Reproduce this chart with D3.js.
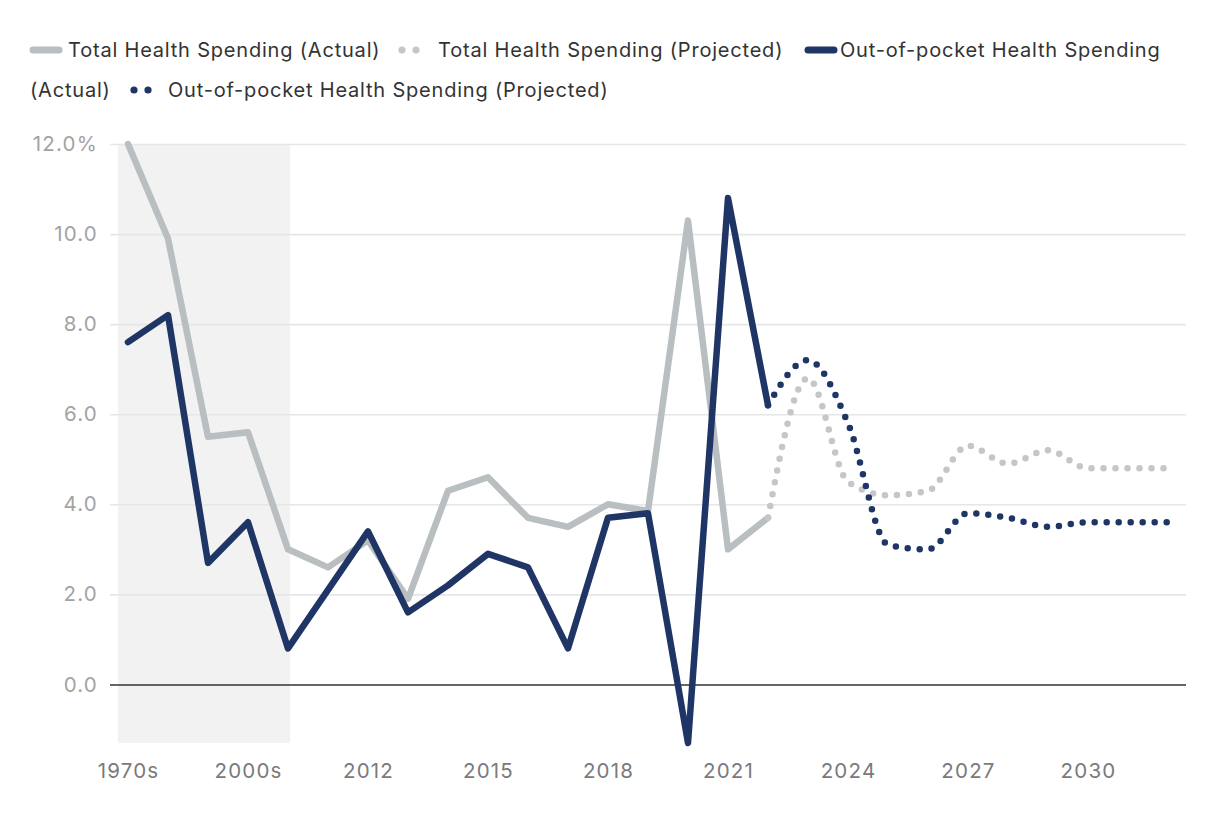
<!DOCTYPE html>
<html><head><meta charset="utf-8">
<script src="https://cdn.jsdelivr.net/npm/d3@7"></script>
<style>
body{margin:0;background:#fff;}
svg text{font-family:Inter, "Open Sans", sans-serif;}
</style>
</head><body>
<svg id="chart" width="1220" height="814"></svg>
<script>
// ---- data ----
const categories = ["1970s","1980s","1990s","2000s","2010","2011","2012","2013","2014","2015","2016","2017","2018","2019","2020","2021","2022","2023","2024","2025","2026","2027","2028","2029","2030","2031","2032"];
const actualYears = categories.slice(0, 17);
const totalActual = [12.0, 9.9, 5.5, 5.6, 3.0, 2.6, 3.2, 1.9, 4.3, 4.6, 3.7, 3.5, 4.0, 3.85, 10.3, 3.0, 3.7];
const oopActual   = [7.6, 8.2, 2.7, 3.6, 0.8, 2.1, 3.4, 1.6, 2.2, 2.9, 2.6, 0.8, 3.7, 3.8, -1.3, 10.8, 6.2];
const projectedYears = ["2022","2023","2024","2025","2026","2027","2028","2029","2030","2031","2032"];
const totalProjected = [3.7, 6.8, 4.5, 4.2, 4.3, 5.3, 4.9, 5.2, 4.8, 4.8, 4.8];
const oopProjected   = [6.2, 7.2, 5.8, 3.1, 3.0, 3.8, 3.7, 3.5, 3.6, 3.6, 3.6];
const yTicks = [0, 2, 4, 6, 8, 10, 12];
const xTickLabels = ["1970s","2000s","2012","2015","2018","2021","2024","2027","2030"];
const shadedRange = ["1970s","2010"];
const legendItems = [
  {label:"Total Health Spending (Actual)", color:"#b9bec1", dotted:false},
  {label:"Total Health Spending (Projected)", color:"#c3c7c9", dotted:true},
  {label:"Out-of-pocket Health Spending", color:"#1f3566", dotted:false},
  {label:"Out-of-pocket Health Spending (Projected)", color:"#1f3566", dotted:true}
];

const grayColor = "#b9bec1", navyColor = "#1f3566";
const svg = d3.select("#chart");
const plot = {left:110, right:1186, top:144, bottom:743};

const x = d3.scalePoint().domain(categories).range([128, 1168]);
const y = d3.scaleLinear().domain([d3.min(oopActual), 12]).range([plot.bottom, plot.top]);

// shaded region
svg.append("rect")
  .attr("x", x(shadedRange[0]) - x.step()*0.25)
  .attr("y", plot.top)
  .attr("width", x(shadedRange[1]) + 2 - (x(shadedRange[0]) - x.step()*0.25))
  .attr("height", plot.bottom - plot.top)
  .attr("fill", "#f2f2f2");

// y axis + grid
const yAxis = d3.axisLeft(y).tickValues(yTicks)
  .tickSize(-(plot.right - plot.left))
  .tickFormat(d => d === 12 ? "12.0%" : d.toFixed(1));
const gy = svg.append("g").attr("transform", `translate(${plot.left},0)`).call(yAxis);
gy.select(".domain").remove();
gy.selectAll(".tick line").attr("stroke", d => d === 0 ? "#333" : "#e6e6e6").attr("stroke-width", 1.6);
gy.selectAll(".tick text").attr("x", -12).attr("fill", "#a3a3a3")
  .style("font-size", "20.5px").style("letter-spacing", "1.2px");
gy.selectAll(".tick").filter(d => d === 0).raise();

// x axis
const xAxis = d3.axisBottom(x).tickValues(xTickLabels).tickSize(0);
const gx = svg.append("g").attr("transform", `translate(0,${plot.bottom})`).call(xAxis);
gx.select(".domain").remove();
gx.selectAll(".tick text").attr("dy", "0").attr("y", 35).attr("fill", "#7a7a7a")
  .style("font-size", "20.5px").style("letter-spacing", "1.2px");

// lines
const solid = d3.line().x((d,i) => x(actualYears[i])).y(d => y(d));
const proj = d3.line().x((d,i) => x(projectedYears[i])).y(d => y(d)).curve(d3.curveMonotoneX);

function drawSolid(data, color){
  svg.append("path").datum(data).attr("d", solid).attr("fill","none")
    .attr("stroke", color).attr("stroke-width", 6.5)
    .attr("stroke-linejoin","round").attr("stroke-linecap","round");
}
function drawDotted(data, color){
  svg.append("path").datum(data).attr("d", proj).attr("fill","none")
    .attr("stroke", color).attr("stroke-width", 6.5)
    .attr("stroke-dasharray","0 12").attr("stroke-linecap","round");
}
drawSolid(totalActual, grayColor);
drawDotted(totalProjected, "#c3c7c9");
drawSolid(oopActual, navyColor);
drawDotted(oopProjected, navyColor);

// legend
const lg = svg.append("g");
const legendPos = [
  {sx:30, tx:68, y:50},
  {sx:402, tx:438, y:50},
  {sx:805, tx:840, y:50},
  {sx:134, tx:168, y:90}
];
legendItems.forEach((it, i) => {
  const p = legendPos[i];
  if (it.dotted) {
    [0, 14].forEach(o => lg.append("circle").attr("cx", p.sx + o).attr("cy", p.y).attr("r", 3.6).attr("fill", it.color));
  } else {
    lg.append("line").attr("x1", p.sx + 3).attr("x2", p.sx + 29).attr("y1", p.y).attr("y2", p.y)
      .attr("stroke", it.color).attr("stroke-width", 7).attr("stroke-linecap","round");
  }
  lg.append("text").attr("x", p.tx).attr("y", p.y).attr("dy", "0.36em")
    .attr("fill", "#333").style("font-size", "20px").style("letter-spacing", "0.8px").text(it.label);
});
lg.append("text").attr("x", 30).attr("y", 90).attr("dy", "0.36em")
  .attr("fill", "#333").style("font-size", "20px").style("letter-spacing", "0.8px").text("(Actual)");
</script>
</body></html>
